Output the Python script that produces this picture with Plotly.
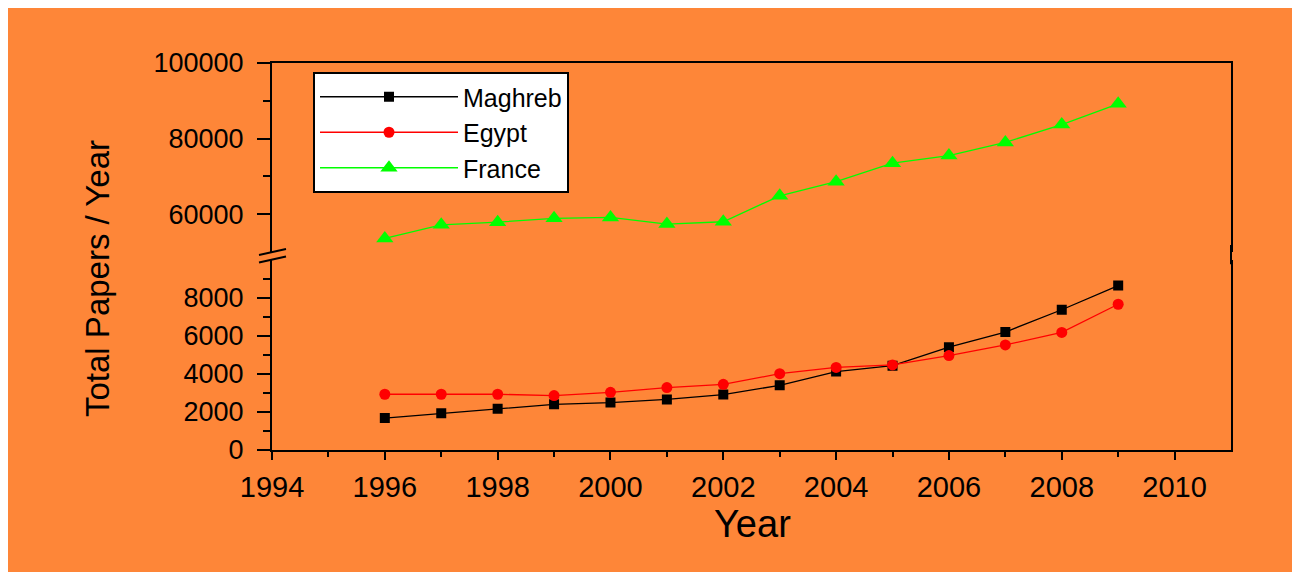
import plotly.graph_objects as go

years = [1996, 1997, 1998, 1999, 2000, 2001, 2002, 2003, 2004, 2005, 2006, 2007, 2008, 2009]
maghreb = [1680, 1930, 2170, 2400, 2490, 2660, 2910, 3400, 4120, 4430, 5400, 6200, 7370, 8640]
egypt = [2930, 2930, 2930, 2860, 3030, 3280, 3450, 4010, 4340, 4470, 4960, 5520, 6180, 7660]
france = [53600, 57200, 57900, 58900, 59150, 57400, 58000, 64850, 68600, 73500, 75500, 79000, 83700, 89200]

x_ticks = [1994, 1996, 1998, 2000, 2002, 2004, 2006, 2008, 2010]
x_minor = [1995, 1997, 1999, 2001, 2003, 2005, 2007, 2009]
low_ticks = [0, 2000, 4000, 6000, 8000]
low_minor = [1000, 3000, 5000, 7000, 9000]
up_ticks = [60000, 80000, 100000]
up_minor = [70000, 90000]

ORANGE = "#FE8638"
FONT = "Arial, Liberation Sans, sans-serif"

fig = go.Figure()
fig.add_trace(go.Scatter(x=years, y=maghreb, name="Maghreb", mode="lines+markers",
                         line=dict(color="black", width=1.3),
                         marker=dict(symbol="square", size=10, color="black"),
                         xaxis="x", yaxis="y"))
fig.add_trace(go.Scatter(x=years, y=egypt, name="Egypt", mode="lines+markers",
                         line=dict(color="#FF0000", width=1.3),
                         marker=dict(symbol="circle", size=11, color="#FF0000"),
                         xaxis="x", yaxis="y"))
fig.add_trace(go.Scatter(x=years, y=france, name="France", mode="lines+markers",
                         line=dict(color="#00FF00", width=1.3),
                         marker=dict(symbol="triangle-up", size=15, color="#00FF00"),
                         xaxis="x2", yaxis="y2"))

# page offset (body margin) of 8px
OFF = 8
W, H = 1300, 578
# desired plot area in page pixels: x 272..1231, y 63..450
L, R, T, B = 272 - OFF, W + OFF - 1231, 63 - OFF, H + OFF - 450
pw, ph = W - L - R, H - T - B

def px(p):
    return (p - OFF - L) / pw

def py(p):
    return (H + OFF - B - p) / ph

ax_common = dict(showline=True, linecolor="black", linewidth=2, showgrid=False,
                 zeroline=False, ticks="outside", tickcolor="black", tickwidth=2,
                 tickfont=dict(family=FONT, size=27, color="black"))

fig.update_layout(
    width=W, height=H,
    margin=dict(l=L, r=R, t=T, b=B),
    paper_bgcolor="white",
    plot_bgcolor="rgba(0,0,0,0)",
    font=dict(family=FONT, color="black"),
    showlegend=True,
    xaxis=dict(**{**ax_common, "tickfont": dict(family=FONT, size=29, color="black")},
               range=[1994, 2011], anchor="y", tickmode="array", tickvals=x_ticks,
               ticklen=8, ticklabelstandoff=2,
               minor=dict(tickmode="array", tickvals=x_minor, ticks="outside",
                          ticklen=5, tickwidth=2, tickcolor="black")),
    xaxis2=dict(range=[1994, 2011], anchor="y2", matches="x", side="top",
                showline=True, linecolor="black", linewidth=2, showgrid=False,
                zeroline=False, showticklabels=False, ticks=""),
    yaxis=dict(**ax_common, domain=[0, 0.4917], range=[0, 10000], anchor="x",
               mirror=True, tickmode="array", tickvals=low_ticks,
               ticktext=[str(v) for v in low_ticks], ticklen=13, ticklabelstandoff=8,
               minor=dict(tickmode="array", tickvals=low_minor, ticks="outside",
                          ticklen=7, tickwidth=2, tickcolor="black")),
    yaxis2=dict(**ax_common, domain=[0.5116, 1], range=[50000, 100000], anchor="x2",
                mirror=True, tickmode="array", tickvals=up_ticks,
                ticktext=[str(v) for v in up_ticks], ticklen=13, ticklabelstandoff=8,
                minor=dict(tickmode="array", tickvals=up_minor, ticks="outside",
                           ticklen=7, tickwidth=2, tickcolor="black")),
    legend=dict(x=px(313), y=py(72), xanchor="left", yanchor="top",
                bgcolor="white", bordercolor="black", borderwidth=2,
                font=dict(family=FONT, size=25, color="black"),
                itemwidth=138, tracegroupgap=0),
    shapes=[
        dict(type="rect", xref="paper", yref="paper", x0=px(7), x1=px(1292),
             y0=py(572), y1=py(0), fillcolor=ORANGE, line=dict(width=0), layer="below"),
        dict(type="line", xref="paper", yref="paper", x0=px(259), y0=py(255),
             x1=px(286), y1=py(249), line=dict(color="black", width=2)),
        dict(type="line", xref="paper", yref="paper", x0=px(259), y0=py(262.5),
             x1=px(286), y1=py(256.5), line=dict(color="black", width=2)),
        dict(type="line", xref="paper", yref="paper", x0=1, y0=0.48, x1=1, y1=0.53,
             line=dict(color="black", width=2)),
    ],
    annotations=[
        dict(text="Total Papers / Year", textangle=-90, xref="paper", yref="paper",
             x=px(97), y=py(279), xanchor="center", yanchor="middle", showarrow=False,
             font=dict(family=FONT, size=33, color="black")),
        dict(text="Year", xref="paper", yref="paper", x=px(752), y=py(524),
             xanchor="center", yanchor="middle", showarrow=False,
             font=dict(family=FONT, size=38, color="black")),
    ],
)

fig.write_html("out.html")
